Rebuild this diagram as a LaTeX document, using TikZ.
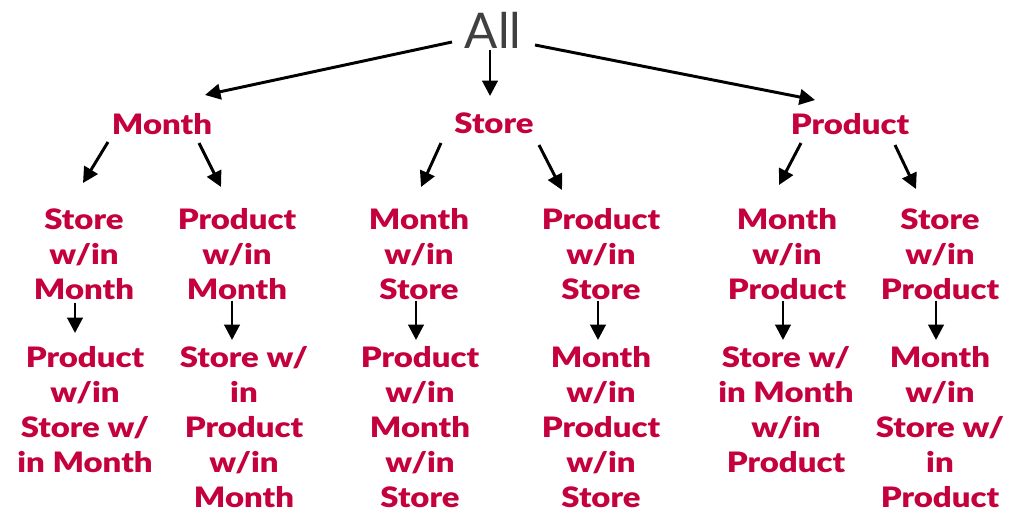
\documentclass[tikz,border=0pt]{standalone}
\usepackage{fontspec}
\setmainfont{Lato}
\newfontfamily\heavyfont{Lato Black}[FakeStretch=1.17]
\usetikzlibrary{arrows.meta}
\definecolor{CubeRed}{HTML}{C4003D}
\definecolor{RootGray}{HTML}{404040}
\tikzset{
  rootnode/.style={inner sep=0pt, text=RootGray, font=\fontsize{35}{40}\selectfont},
  levelnode/.style={inner sep=0pt, text=CubeRed, align=center, font=\heavyfont\fontsize{20}{24.9}\selectfont},
  arrow/.style={-{Triangle[length=11pt,width=11pt]}, line width=2.1pt, black}
}

\begin{document}
\begin{tikzpicture}[x=0.025cm, y=-0.025cm]
  \useasboundingbox (0,0) rectangle (1010,507);

  % root and first split
  \node[rootnode, anchor=base] (all) at (493,48) {All};
  \node[levelnode, anchor=base] (month) at (162,134) {Month};
  \node[levelnode, anchor=base] (store) at (494,133) {Store};
  \node[levelnode, anchor=base] (product) at (850,134) {Product};

  % second split
  \node[levelnode, anchor=north] (smonth) at (84,208) {Store\\w/in\\Month};
  \node[levelnode, anchor=north] (pmonth) at (237,208) {Product\\w/in\\Month};
  \node[levelnode, anchor=north] (mstore) at (419,208) {Month\\w/in\\Store};
  \node[levelnode, anchor=north] (pstore) at (601,208) {Product\\w/in\\Store};
  \node[levelnode, anchor=north] (mproduct) at (787,208) {Month\\w/in\\Product};
  \node[levelnode, anchor=north] (sproduct) at (940,208) {Store\\w/in\\Product};

  % third split
  \node[levelnode, anchor=north] (psmonth) at (85,346) {Product\\w/in\\Store w/\\in Month};
  \node[levelnode, anchor=north] (spmonth) at (244,346) {Store w/\\in\\Product\\w/in\\Month};
  \node[levelnode, anchor=north] (pmstore) at (420,346) {Product\\w/in\\Month\\w/in\\Store};
  \node[levelnode, anchor=north] (mpstore) at (601,346) {Month\\w/in\\Product\\w/in\\Store};
  \node[levelnode, anchor=north] (smproduct) at (786,346) {Store w/\\in Month\\w/in\\Product};
  \node[levelnode, anchor=north] (msproduct) at (940,346) {Month\\w/in\\Store w/\\in\\Product};

  % arrows from the root
  \draw[arrow] ([shift={(-41,-6)}]all.base) -- ([shift={(43,-39)}]month.base);
  \draw[arrow] ([shift={(-3,2)}]all.base) -- ([shift={(-4,-37)}]store.base);
  \draw[arrow] ([shift={(42,-3)}]all.base) -- ([shift={(-35,-34)}]product.base);

  % arrows to the second split
  \draw[arrow] ([shift={(-54,8)}]month.base) -- ([shift={(-1,-25)}]smonth.north);
  \draw[arrow] ([shift={(37,9)}]month.base) -- ([shift={(-16,-21)}]pmonth.north);
  \draw[arrow] ([shift={(-53,10)}]store.base) -- ([shift={(2,-21)}]mstore.north);
  \draw[arrow] ([shift={(45,12)}]store.base) -- ([shift={(-39,-18)}]pstore.north);
  \draw[arrow] ([shift={(-49,9)}]product.base) -- ([shift={(-8,-23)}]mproduct.north);
  \draw[arrow] ([shift={(45,11)}]product.base) -- ([shift={(-24,-19)}]sproduct.north);

  % arrows to the third split
  \draw[arrow] ([shift={(-9,3)}]smonth.south) -- ([shift={(-10,-13)}]psmonth.north);
  \draw[arrow] ([shift={(-5,1)}]pmonth.south) -- ([shift={(-12,-6)}]spmonth.north);
  \draw[arrow] ([shift={(-3,1)}]mstore.south) -- ([shift={(-4,-6)}]pmstore.north);
  \draw[arrow] ([shift={(-3,1)}]pstore.south) -- ([shift={(-3,-6)}]mpstore.north);
  \draw[arrow] ([shift={(-4,1)}]mproduct.south) -- ([shift={(-3,-6)}]smproduct.north);
  \draw[arrow] ([shift={(-4,1)}]sproduct.south) -- ([shift={(-4,-6)}]msproduct.north);
\end{tikzpicture}
\end{document}
